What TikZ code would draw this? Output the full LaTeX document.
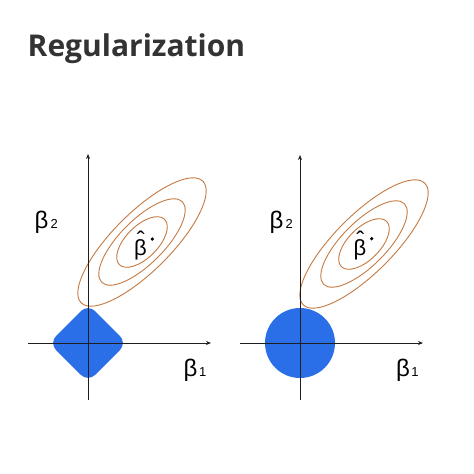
\documentclass[tikz,border=0pt]{standalone}
\usepackage{fontspec}
\setmainfont{Liberation Sans}
\newfontfamily\titlefont{Open Sans}
\usetikzlibrary{arrows.meta}
\definecolor{regblue}{RGB}{43,111,232}
\definecolor{contour}{RGB}{196,122,66}
\definecolor{titlegray}{RGB}{51,51,51}
\definecolor{axisgray}{RGB}{30,30,30}
\tikzset{
  axis/.style={draw=axisgray, line width=0.8pt, -{Stealth[length=5pt,width=4pt]}},
  contourline/.style={draw=contour, line width=0.9pt},
  beta/.style={anchor=base west, inner sep=0pt, font=\fontsize{24}{24}\selectfont},
  betahat/.style={anchor=base, inner sep=0pt, font=\fontsize{22}{22}\selectfont},
  optdot/.style={fill=black, draw=none},
  region/.style={fill=regblue, draw=none}
}
\newcommand{\subsz}[1]{{\fontsize{13}{13}\selectfont #1}}
\newcommand{\hatbeta}{\rlap{\kern2.6pt\raisebox{6.5pt}{\fontsize{24}{24}\selectfont ˆ}}β}
\begin{document}
\begin{tikzpicture}[x=1pt,y=-1pt]
\useasboundingbox (0,0) rectangle (474,474);
\fill[white] (0,0) rectangle (474,474);

% title
\node[anchor=base west, inner sep=0pt, text=titlegray, font=\titlefont\bfseries\fontsize{30}{30}\selectfont] (title) at (27.5,56.7) {Regularization};

% ---------- left panel (lasso) ----------
\coordinate (O1) at (88,343);
\coordinate (L1b) at (88,400);
\coordinate (L1t) at (88,154);
\coordinate (L1l) at (28,343);
\coordinate (L1r) at (211,343);
\fill[region, rounded corners=10pt] (88,304) -- (127,343) -- (88,382) -- (49,343) -- cycle;
\begin{scope}[shift={(142,242)}, rotate=45]
  \draw[contourline] (0,0) ellipse [x radius=86pt, y radius=29pt];
  \draw[contourline] (0,0) ellipse [x radius=57pt, y radius=22pt];
  \draw[contourline] (0,0) ellipse [x radius=32pt, y radius=16pt];
\end{scope}
\draw[axis] (L1b) -- (L1t);
\draw[axis] (L1l) -- (L1r);
\fill[optdot] (152.3,239) circle [radius=1.8pt];
\node[betahat] (bh1) at (140.5,255) {\hatbeta};
\node[beta] (b2l) at (34.5,228) {β\kern2pt\subsz{2}};
\node[beta] (b1l) at (183.5,376) {β\kern1.5pt\subsz{1}};

% ---------- right panel (ridge) ----------
\coordinate (O2) at (300,343);
\coordinate (R1b) at (300,400);
\coordinate (R1t) at (300,155);
\coordinate (R1l) at (240,343);
\coordinate (R1r) at (423,343);
\fill[region] (O2) circle [radius=35pt];
\begin{scope}[shift={(364,244)}, rotate=45]
  \draw[contourline] (0,0) ellipse [x radius=86pt, y radius=29pt];
  \draw[contourline] (0,0) ellipse [x radius=57pt, y radius=22pt];
  \draw[contourline] (0,0) ellipse [x radius=32pt, y radius=16pt];
\end{scope}
\draw[axis] (R1b) -- (R1t);
\draw[axis] (R1l) -- (R1r);
\fill[optdot] (371.7,238.7) circle [radius=1.8pt];
\node[betahat] (bh2) at (360,255) {\hatbeta};
\node[beta] (b2r) at (269.5,228) {β\kern2pt\subsz{2}};
\node[beta] (b1r) at (395.8,376) {β\kern1.5pt\subsz{1}};
\end{tikzpicture}
\end{document}
